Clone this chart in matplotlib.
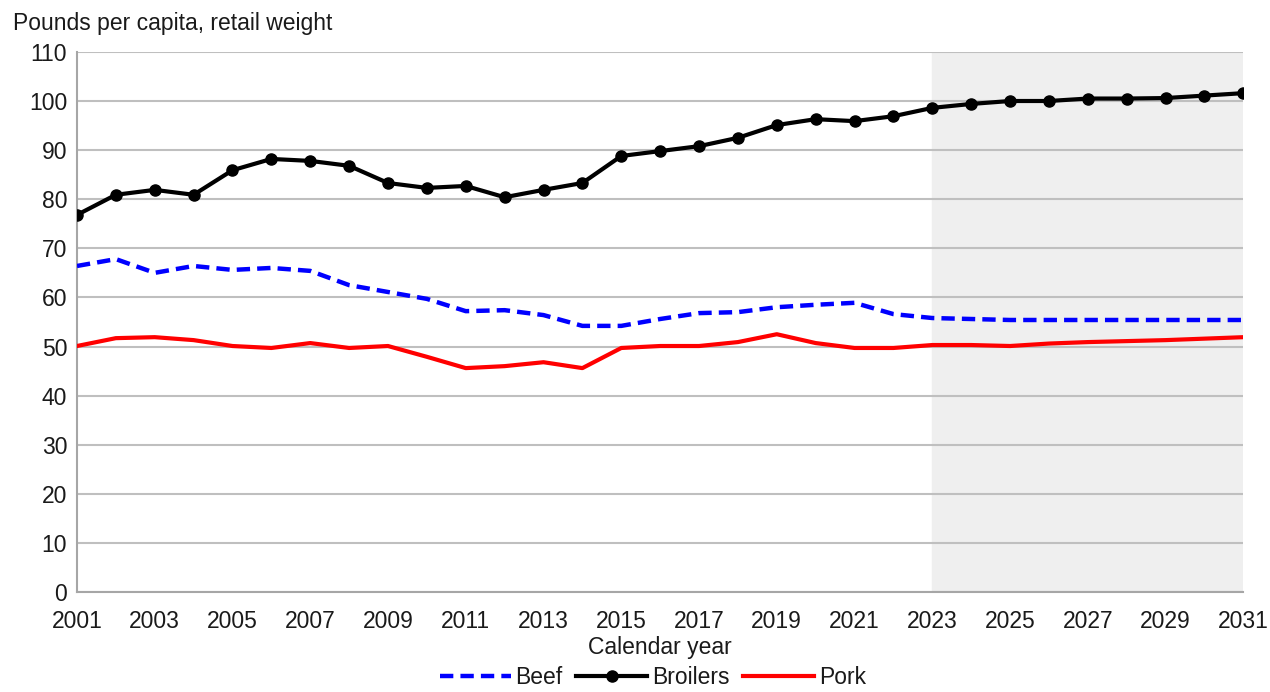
import matplotlib.pyplot as plt
import numpy as np

plt.rcParams['font.family'] = ['Liberation Sans', 'DejaVu Sans']

years = list(range(2001, 2032))

broilers = [76.8, 80.9, 81.9, 80.9, 85.9, 88.2, 87.8, 86.8, 83.3, 82.3,
            82.7, 80.4, 81.9, 83.3, 88.8, 89.8, 90.8, 92.5, 95.1, 96.3,
            95.9, 96.9, 98.6, 99.4, 100.0, 100.0, 100.5, 100.5, 100.6, 101.1,
            101.6]

beef = [66.4, 67.8, 65.0, 66.4, 65.6, 66.0, 65.4, 62.5, 61.1, 59.7,
        57.2, 57.4, 56.4, 54.2, 54.2, 55.6, 56.8, 57.0, 58.0, 58.5,
        58.9, 56.6, 55.8, 55.6, 55.4, 55.4, 55.4, 55.4, 55.4, 55.4,
        55.4]

pork = [50.1, 51.7, 51.9, 51.3, 50.1, 49.7, 50.7, 49.7, 50.1, 47.9,
        45.6, 46.0, 46.8, 45.6, 49.7, 50.1, 50.1, 50.9, 52.5, 50.7,
        49.7, 49.7, 50.3, 50.3, 50.1, 50.6, 50.9, 51.1, 51.3, 51.6,
        51.9]

projection_start = 2023

fig = plt.figure(figsize=(12.7, 6.92), dpi=100)
ax = fig.add_axes([0.0606, 0.1445, 0.9184, 0.7805])

ax.axvspan(projection_start, years[-1], color='#efefef', zorder=0)

ax.plot(years, beef, color='#0000ff', linewidth=3.2, linestyle=(0, (3, 1.6)),
        label='Beef', zorder=3)
ax.plot(years, broilers, color='black', linewidth=3, marker='o', markersize=8,
        label='Broilers', zorder=4)
ax.plot(years, pork, color='#ff0000', linewidth=3, label='Pork', zorder=3)

ax.set_xlim(2001, 2031)
ax.set_ylim(0, 110)
ax.set_xticks(range(2001, 2032, 2))
ax.set_yticks(range(0, 111, 10))
ax.yaxis.grid(True, color='#bfbfbf', linewidth=1.5, zorder=1)
ax.set_axisbelow(True)

for side in ['top', 'right']:
    ax.spines[side].set_visible(False)
for side in ['left', 'bottom']:
    ax.spines[side].set_color('#a6a6a6')
    ax.spines[side].set_linewidth(1.5)

ax.tick_params(axis='both', length=0, labelsize=16.5, labelcolor='#1a1a1a')
ax.tick_params(axis='y', pad=7)
ax.tick_params(axis='x', pad=13)
ax.set_xlabel('Calendar year', fontsize=16.5, color='#1a1a1a', labelpad=2)

fig.text(0.010, 0.957, 'Pounds per capita, retail weight', fontsize=16.5,
         color='#1a1a1a', ha='left', va='baseline')

leg = fig.legend(loc='lower center', bbox_to_anchor=(0.514, -0.026), ncol=3,
                 frameon=False, fontsize=16.5, handlelength=3.1, handletextpad=0.2,
                 columnspacing=0.6)
for t in leg.get_texts():
    t.set_color('#1a1a1a')

plt.savefig('out.png', dpi=100)
plt.close()
